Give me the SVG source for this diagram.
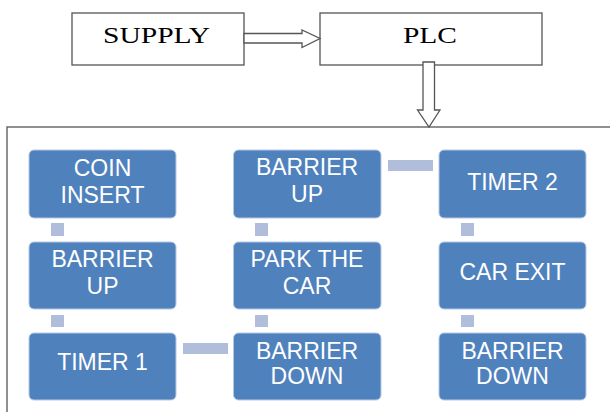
<svg xmlns="http://www.w3.org/2000/svg" width="610" height="412" viewBox="0 0 610 412">
<style>
.top{fill:#fff;stroke:#555;stroke-width:1.3}
.ttxt{font-family:"Liberation Serif",serif;font-size:23px;fill:#000}
.blk{fill:#fff;stroke:#555;stroke-width:1.3}
.node rect{fill:#4f81bd;stroke:#b6c8e4;stroke-width:1}
.node text{font-family:"Liberation Sans",Arial,sans-serif;font-size:23px;fill:#fff;text-anchor:middle}
.conn rect{fill:#b0bedb}
</style>
<rect x="0" y="0" width="610" height="412" fill="#fff"/>
<rect x="7" y="127" width="620" height="300" fill="none" stroke="#555" stroke-width="1.3"/>
<g id="supply"><rect class="top" x="72" y="13" width="172" height="52"/><text class="ttxt" x="103" y="43" textLength="107" lengthAdjust="spacingAndGlyphs">SUPPLY</text></g>
<g id="plc"><rect class="top" x="320" y="13" width="222" height="52"/><text class="ttxt" x="403" y="43" textLength="54" lengthAdjust="spacingAndGlyphs">PLC</text></g>
<g id="arrows">
<polygon class="blk" points="244,33.5 302,33.5 302,30 320,38.5 302,47.5 302,43 244,43"/>
<polygon class="blk" points="423,62 434.5,62 434.5,110 440,110 429,127 417.5,110 423,110"/>
</g>
<g id="connectors" class="conn">
<rect x="51" y="223" width="13" height="13"/>
<rect x="255" y="223" width="13" height="13"/>
<rect x="461" y="223" width="13" height="13"/>
<rect x="51" y="315" width="13" height="12"/>
<rect x="255" y="315" width="13" height="12"/>
<rect x="461" y="315" width="13" height="12"/>
<rect x="388" y="160" width="45" height="11"/>
<rect x="183" y="343" width="45" height="11"/>
</g>
<g id="coin" class="node"><rect x="29" y="150" width="147" height="68" rx="5"/><text x="102.5" y="176">COIN</text><text x="102.5" y="202.5">INSERT</text></g>
<g id="barrier-up1" class="node"><rect x="29" y="242" width="147" height="67" rx="5"/><text x="102.5" y="267">BARRIER</text><text x="102.5" y="293.5">UP</text></g>
<g id="timer1" class="node"><rect x="29" y="333" width="147" height="67" rx="5"/><text x="102.5" y="370">TIMER 1</text></g>
<g id="barrier-up2" class="node"><rect x="233.5" y="150" width="147.5" height="68" rx="5"/><text x="307" y="175">BARRIER</text><text x="307" y="201.5">UP</text></g>
<g id="park" class="node"><rect x="233.5" y="242" width="147.5" height="67" rx="5"/><text x="307" y="267">PARK THE</text><text x="307" y="293.5">CAR</text></g>
<g id="barrier-down1" class="node"><rect x="233.5" y="333" width="147.5" height="67" rx="5"/><text x="307" y="358.5">BARRIER</text><text x="307" y="383.5">DOWN</text></g>
<g id="timer2" class="node"><rect x="439" y="150" width="147" height="68" rx="5"/><text x="512.5" y="189.5">TIMER 2</text></g>
<g id="carexit" class="node"><rect x="439" y="242" width="147" height="67" rx="5"/><text x="512.5" y="280">CAR EXIT</text></g>
<g id="barrier-down2" class="node"><rect x="439" y="333" width="147" height="67" rx="5"/><text x="512.5" y="358.5">BARRIER</text><text x="512.5" y="383.5">DOWN</text></g>
</svg>
